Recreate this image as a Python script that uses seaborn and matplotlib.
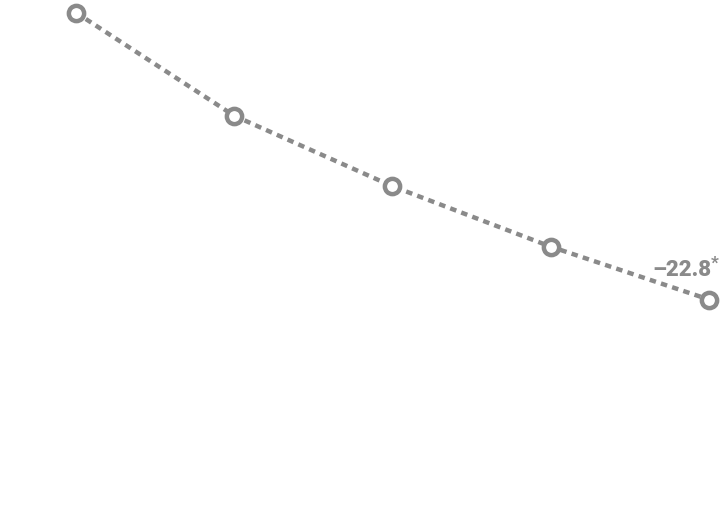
import matplotlib
matplotlib.use("Agg")
import matplotlib.pyplot as plt
import seaborn as sns
import pandas as pd

periods = [0, 1, 2, 3, 4]
values = [0.0, -8.2, -13.8, -18.6, -22.8]
end_label = "\u201322.8"

sns.set_theme(style="white")
plt.rcParams['font.family'] = ['Roboto', 'DejaVu Sans']

df = pd.DataFrame({"period": periods, "value": values})
fig = plt.figure(figsize=(7.28, 5.16), dpi=100)
ax = fig.add_axes([0, 0, 1, 1])
gray = "#8a8a8a"
sns.lineplot(data=df, x="period", y="value", ax=ax, color=gray,
             linewidth=3.2, linestyle=(0, (1.45, 1.2)), marker="o",
             markersize=11, markeredgewidth=3.2, markeredgecolor=gray,
             markerfacecolor="white", dash_capstyle="butt")
ax.set_xlim(-0.48, 4.12)
ax.set_ylim(-40, 1.0)
ax.axis("off")
ax.annotate(end_label, (periods[-1], values[-1]), xytext=(1.5, 17),
            textcoords="offset points", ha="right", va="baseline",
            fontsize=16, fontweight="heavy", color=gray)
ax.annotate("*", (periods[-1], values[-1]), xytext=(1.5, 23),
            textcoords="offset points", ha="left", va="baseline",
            fontsize=12, fontweight="heavy", color=gray)
fig.savefig("out.png", dpi=100)
